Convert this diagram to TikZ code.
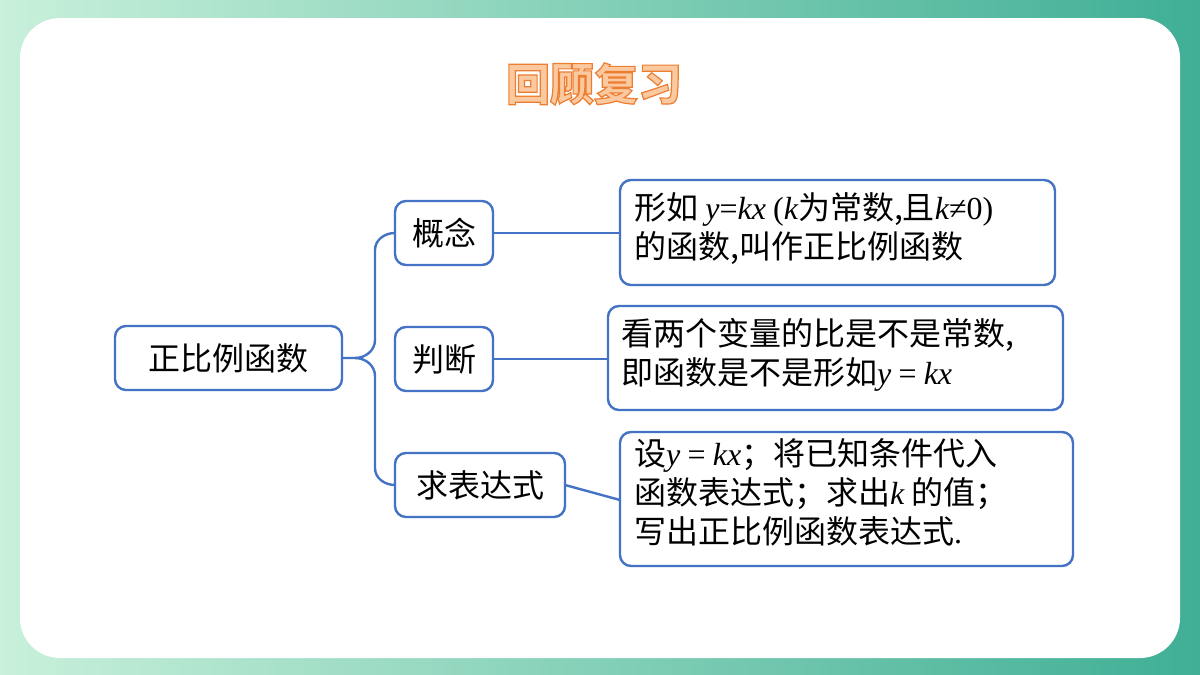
\documentclass[tikz,border=0pt]{standalone}
\usepackage{fontspec}
\setmainfont{Noto Sans CJK SC}
\newfontfamily\tms{Liberation Serif}
\newcommand{\mi}[1]{{\tms\itshape #1}}
\newcommand{\mr}[1]{{\tms #1}}
\definecolor{bl}{HTML}{4472C4}
\definecolor{og}{HTML}{ED7D31}
\definecolor{ogl}{HTML}{FAC9A0}
\definecolor{mint}{HTML}{C8F0DA}
\definecolor{teal}{HTML}{3FAF95}
\begin{document}
\begin{tikzpicture}[x=1pt,y=-1pt,
  box/.style={draw=bl,line width=2.4pt,rounded corners=11pt,fill=white},
  lbl/.style={font=\fontsize{32}{34}\selectfont},
  txt/.style={font=\fontsize{32}{39}\selectfont,align=left,anchor=north west,inner sep=0pt},
  con/.style={draw=bl,line width=2.4pt}]
\useasboundingbox (0,0) rectangle (1200,675);
\shade[left color=mint,right color=teal] (0,0) rectangle (1200,675);
\fill[white,rounded corners=40pt] (20,18) rectangle (1180,658);
% title (outlined text)
\node[font=\bfseries\fontsize{44}{46}\selectfont,text=ogl] (title) at (594,84)
  {\special{pdf:literal direct 1.2 w 0.93 0.49 0.19 RG 2 Tr}回顾复习\special{pdf:literal direct 0 Tr}};
% boxes
\draw[box] (115,326) rectangle (342,390);
\node[lbl] (root) at (228.5,358) {正比例函数};
\coordinate (rootR) at (342,358);
\draw[box] (395,201) rectangle (493,265); \node[lbl] (a) at (444,233) {概念};
\draw[box] (395,327) rectangle (493,391); \node[lbl] (b) at (444,359) {判断};
\draw[box] (395,453) rectangle (565,517); \node[lbl] (c) at (480,485) {求表达式};
\coordinate (aL) at (395,233); \coordinate (aR) at (493,233);
\coordinate (bL) at (395,359); \coordinate (bR) at (493,359);
\coordinate (cL) at (395,485); \coordinate (cR) at (565,485);
\draw[box] (620,180) rectangle (1055,285); \coordinate (d1) at (620,233);
\draw[box] (608,306) rectangle (1063,410); \coordinate (d2) at (608,359);
\draw[box] (620,432) rectangle (1073,566); \coordinate (d3) at (620,500);
\node[txt] (t1) at (634,192) {形如 \mi{y}\mr{=}\mi{kx} \mr{(}\mi{k}为常数,且\mi{k}\mr{≠0)}\\的函数,叫作正比例函数};
\node[txt] (t2) at (621,318) {看两个变量的比是不是常数,\\即函数是不是形如\mi{y} \mr{=} \mi{kx}};
\node[txt] (t3) at (634,438) {设\mi{y} \mr{=} \mi{kx}；将已知条件代入\\函数表达式；求出\mi{k} 的值；\\写出正比例函数表达式\mr{.}};
% connectors
\draw[con] (rootR) -- (355,358) to[out=0,in=-90] (375,340) -- (375,250) to[out=90,in=180] (aL);
\draw[con] (355,358) to[out=0,in=90] (375,376) -- (375,468) to[out=-90,in=180] (cL);
\draw[con] (aR) -- (d1);
\draw[con] (bR) -- (d2);
\draw[con] (cR) -- (d3);
\end{tikzpicture}
\end{document}
